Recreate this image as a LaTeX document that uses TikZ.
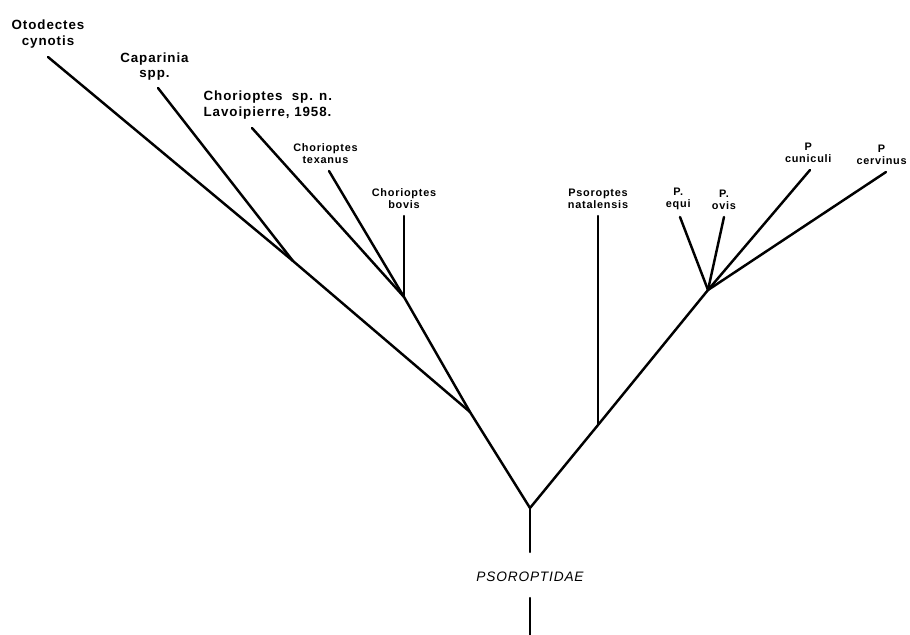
\documentclass[tikz,border=0pt]{standalone}
\usepackage{fontspec}
\setmainfont{Liberation Sans}
\newfontfamily\lblfont[LetterSpace=7]{Liberation Sans}
\newfontfamily\famfont[LetterSpace=6]{Liberation Sans}
\usetikzlibrary{positioning}

\tikzset{
  branch/.style={line width=1.4pt, line cap=round},
  biglbl/.style={font=\lblfont\fontsize{7.6}{8.6}\selectfont\bfseries, align=center, inner sep=0pt},
  smalllbl/.style={font=\lblfont\fontsize{6.2}{7}\selectfont\bfseries, align=center, inner sep=0pt},
  famlbl/.style={font=\famfont\fontsize{7.8}{9}\selectfont\itshape, inner sep=0pt}
}

\begin{document}
\begin{tikzpicture}[x=0.02cm, y=-0.02cm]
    \useasboundingbox (0,0) rectangle (910,635);

    % junctions
    \coordinate (root) at (530,508);
    \coordinate (left) at (470,412);
    \coordinate (chor) at (404,297);
    \coordinate (otod) at (293,261);
    \coordinate (right) at (708,290);
    \coordinate (nata) at (598,425);
    \coordinate (stemtop) at (530,552);
    \coordinate (stembot) at (530,635);

    % tips
    \coordinate (t1) at (48,57);
    \coordinate (t2) at (158,88);
    \coordinate (t3) at (252,128);
    \coordinate (t4) at (329,171);
    \coordinate (t5) at (404,216);
    \coordinate (t6) at (598,216);
    \coordinate (t7) at (680,217);
    \coordinate (t8) at (724,217);
    \coordinate (t9) at (810,170);
    \coordinate (t10) at (886,172);

    % labels
    \node[biglbl, above=5pt of t1] (l1) {Otodectes\\cynotis};
    \node[biglbl, above=4pt of t2, xshift=-2pt] (l2) {Caparinia\\spp.};
    \node[biglbl, align=left, above=5pt of t3, xshift=9pt] (l3) {Chorioptes\ \ sp. n.\\Lavoipierre, 1958.};
    \node[smalllbl, above=4pt of t4, xshift=-2pt] (l4) {Chorioptes\\texanus};
    \node[smalllbl, above=4pt of t5] (l5) {Chorioptes\\bovis};
    \node[smalllbl, above=4pt of t6] (l6) {Psoroptes\\natalensis};
    \node[smalllbl, above=4pt of t7, xshift=-1pt] (l7) {P.\\equi};
    \node[smalllbl, above=4pt of t8] (l8) {P.\\ovis};
    \node[smalllbl, above=4pt of t9, xshift=-1pt] (l9) {P\\cuniculi};
    \node[smalllbl, above=4pt of t10, xshift=-2.5pt] (l10) {P\\cervinus};
    \node[famlbl] (fam) at (530,577) {PSOROPTIDAE};

    % tree
    \draw[branch] (stemtop) -- (root);
    \draw[branch] (fam.south |- 0,598) -- (stembot);
    \draw[branch] (root) -- (left);
    \draw[branch] (root) -- (nata) -- (right);
    \draw[branch] (left) -- (otod) -- (t1);
    \draw[branch] (otod) -- (t2);
    \draw[branch] (left) -- (chor);
    \draw[branch] (chor) -- (t3);
    \draw[branch] (chor) -- (t4);
    \draw[branch] (chor) -- (t5);
    \draw[branch] (nata) -- (t6);
    \draw[branch] (right) -- (t7);
    \draw[branch] (right) -- (t8);
    \draw[branch] (right) -- (t9);
    \draw[branch] (right) -- (t10);
\end{tikzpicture}
\end{document}
